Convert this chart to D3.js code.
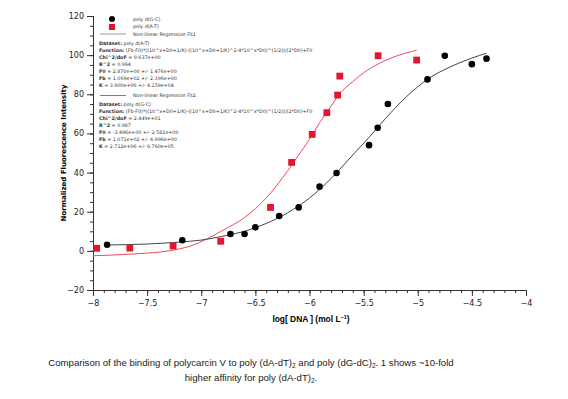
<!DOCTYPE html>
<html>
<head>
<meta charset="utf-8">
<script src="https://cdn.jsdelivr.net/npm/d3@7"></script>
<style>
  body { margin: 0; background: #fff; }
  svg { display: block; }
  .tick text { font-family: "DejaVu Sans", sans-serif; font-size: 8px; fill: #222; }
  .fit-text { font-family: "DejaVu Sans", sans-serif; font-size: 4.8px; fill: #333; }
  .caption { font-family: "Liberation Sans", Arial, sans-serif; font-size: 9.6px; fill: #222; }
</style>
</head>
<body>
<svg id="chart" width="568" height="399"></svg>
<script>
// poly d(G-C) points
const gcX = [-7.87, -7.175, -6.73, -6.60, -6.50, -6.28, -6.10, -5.907, -5.75, -5.45, -5.37, -5.276, -4.91, -4.75, -4.50, -4.365];
const gcY = [3.1, 5.4, 8.6, 8.6, 12, 17.8, 22.2, 32.8, 39.8, 54, 62.9, 75, 87.6, 99.7, 95.4, 98.2];
// poly d(A-T) points
const atX = [-7.966, -7.66, -7.26, -6.82, -6.36, -6.165, -5.975, -5.84, -5.74, -5.72, -5.366, -5.01];
const atY = [1.3, 1.4, 2.5, 4.9, 22.2, 45.2, 59.5, 70.6, 79.6, 89.3, 99.7, 97.5];
// fitted curves
const fitAtX = [-8, -7.6, -7.3, -7.1, -6.95, -6.8, -6.6, -6.4, -6.2, -6.1, -6.0, -5.9, -5.8, -5.74, -5.6, -5.5, -5.366, -5.2, -5.01];
const fitAtY = [-2.5, -1.5, 0, 2.5, 6, 10.5, 17, 27, 41, 49, 57, 66, 74, 79, 86.5, 91, 95.5, 99.5, 102.5];
const fitGcX = [-7.88, -7.5, -7.2, -7.0, -6.8, -6.6, -6.4, -6.2, -6.0, -5.8, -5.6, -5.45, -5.3, -5.1, -4.9, -4.7, -4.5, -4.365];
const fitGcY = [3, 3.5, 4.5, 5.5, 7.5, 10, 14, 19.5, 27, 37, 49, 58, 67.5, 79, 88, 94, 98.5, 101];

const xTicks = [-8, -7.5, -7, -6.5, -6, -5.5, -5, -4.5, -4];
const yTicks = [-20, 0, 20, 40, 60, 80, 100, 120];

const fit1Lines = [
  ['Dataset:', ' poly d(A-T)'],
  ['Function:', ' (Fb-F0)*((10^x+D0+1/K)-((10^x+D0+1/K)^2-4*10^x*D0)^(1/2))/(2*D0)+F0'],
  ['Chi^2/doF', ' = 9.637e+00'],
  ['R^2', ' = 0.994'],
  ['F0', ' = 2.870e+00 +/- 1.476e+00'],
  ['Fb', ' = 1.069e+02 +/- 2.396e+00'],
  ['K', ' = 3.900e+06 +/- 4.159e+04']
];
const fit2Lines = [
  ['Dataset:', ' poly d(G-C)'],
  ['Function:', ' (Fb-F0)*((10^x+D0+1/K)-((10^x+D0+1/K)^2-4*10^x*D0)^(1/2))/(2*D0)+F0'],
  ['Chi^2/doF', ' = 2.449e+01'],
  ['R^2', ' = 0.987'],
  ['F0', ' = -3.496e+00 +/- 2.581e+00'],
  ['Fb', ' = 1.071e+02 +/- 4.996e+00'],
  ['K', ' = 2.712e+06 +/- 6.760e+05']
];

const red = '#e5142f';
const svg = d3.select('#chart');

const x = d3.scaleLinear().domain([-8, -4]).range([93, 526]);
const y = d3.scaleLinear().domain([-20, 120]).range([290, 16]);

// axes
svg.append('g').attr('transform', `translate(0,${y(-20)})`)
  .call(d3.axisBottom(x).tickValues(xTicks).tickSize(6).tickPadding(4)
    .tickFormat((d) => d3.format('')(d).replace('-', '\u2212')));
svg.append('g').attr('transform', `translate(0,${y(-20)})`)
  .call(d3.axisBottom(x).tickValues(d3.range(-80, -39).map((v) => v / 10)).tickSize(3).tickFormat(''));
svg.append('g').attr('transform', `translate(${x(-8)},0)`)
  .call(d3.axisLeft(y).tickValues(yTicks).tickSize(6).tickPadding(3)
    .tickFormat((d) => d3.format('')(d).replace('-', '\u2212')));
svg.append('g').attr('transform', `translate(${x(-8)},0)`)
  .call(d3.axisLeft(y).tickValues(d3.range(-20, 121, 5)).tickSize(3).tickFormat(''));
svg.selectAll('.domain, .tick line').attr('stroke', '#333').attr('stroke-width', 1);

// axis titles
svg.append('text')
  .attr('transform', `translate(66,${y(50)}) rotate(-90)`)
  .attr('text-anchor', 'middle')
  .style('font-family', '"DejaVu Sans", sans-serif').style('font-size', '7px').style('font-weight', 'bold')
  .text('Normalized Fluorescence Intensity');

const xl = svg.append('text')
  .attr('x', 311).attr('y', 322)
  .attr('text-anchor', 'middle')
  .style('font-family', '"Liberation Sans", Arial, sans-serif').style('font-size', '8.4px').style('font-weight', 'bold')
  .text('log[ DNA ] (mol L');
xl.append('tspan').attr('dy', -3).style('font-size', '5.5px').text('\u22121');
xl.append('tspan').attr('dy', 3).text(')');

// fits
const line = d3.line().x((d) => x(d[0])).y((d) => y(d[1])).curve(d3.curveMonotoneX);
svg.append('path').datum(d3.zip(fitAtX, fitAtY))
  .attr('d', line).attr('fill', 'none').attr('stroke', '#ee4a5c').attr('stroke-width', 1);
svg.append('path').datum(d3.zip(fitGcX, fitGcY))
  .attr('d', line).attr('fill', 'none').attr('stroke', '#444').attr('stroke-width', 1);

// points
svg.append('g').selectAll('circle').data(d3.zip(gcX, gcY)).join('circle')
  .attr('cx', (d) => x(d[0])).attr('cy', (d) => y(d[1])).attr('r', 3.3).attr('fill', '#000');
svg.append('g').selectAll('rect').data(d3.zip(atX, atY)).join('rect')
  .attr('x', (d) => x(d[0]) - 3.4).attr('y', (d) => y(d[1]) - 3.4)
  .attr('width', 6.8).attr('height', 6.8).attr('fill', red);

// legend
const lg = svg.append('g');
lg.append('circle').attr('cx', 112).attr('cy', 19).attr('r', 3).attr('fill', '#000');
lg.append('rect').attr('x', 109).attr('y', 24).attr('width', 6).attr('height', 6).attr('fill', red);
lg.append('line').attr('x1', 100).attr('x2', 126).attr('y1', 34).attr('y2', 34).attr('stroke', '#aaa').attr('stroke-width', 1.2);
lg.append('line').attr('x1', 100).attr('x2', 126).attr('y1', 95.5).attr('y2', 95.5).attr('stroke', '#ee4a5c').attr('stroke-width', 1);
[['poly d(G-C)', 20.5], ['poly d(A-T)', 28], ['Non-linear Regression Fit1', 35.5], ['Non-linear Regression Fit2', 97]]
  .forEach(([t, yy]) => lg.append('text').attr('class', 'fit-text').attr('x', 133).attr('y', yy).text(t));

function fitBlock(lines, y0) {
  lines.forEach(([b, rest], i) => {
    const t = lg.append('text').attr('class', 'fit-text').attr('x', 99).attr('y', y0 + i * 7);
    t.append('tspan').style('font-weight', 'bold').text(b);
    t.append('tspan').text(rest);
  });
}
fitBlock(fit1Lines, 44.5);
fitBlock(fit2Lines, 106);

// caption
svg.append('text').attr('class', 'caption').attr('x', 251).attr('y', 366).attr('text-anchor', 'middle')
  .call((t) => {
    t.append('tspan').text('Comparison of the binding of polycarcin V to poly (dA-dT)');
    t.append('tspan').attr('dy', 2).style('font-size', '6.5px').text('2');
    t.append('tspan').attr('dy', -2).text(' and poly (dG-dC)');
    t.append('tspan').attr('dy', 2).style('font-size', '6.5px').text('2');
    t.append('tspan').attr('dy', -2).text('. 1 shows ~10-fold');
  });
svg.append('text').attr('class', 'caption').attr('x', 251).attr('y', 381).attr('text-anchor', 'middle')
  .call((t) => {
    t.append('tspan').text('higher affinity for poly (dA-dT)');
    t.append('tspan').attr('dy', 2).style('font-size', '6.5px').text('2');
    t.append('tspan').attr('dy', -2).text('.');
  });
</script>
</body>
</html>
